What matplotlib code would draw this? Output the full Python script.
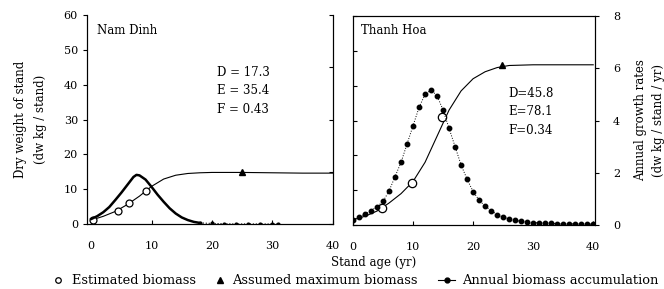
import numpy as np
import matplotlib.pyplot as plt
from matplotlib.lines import Line2D

plt.rcParams['font.family'] = ['DejaVu Serif']
plt.rcParams['font.size'] = 8

# ---- Nam Dinh (left panel) ----
nd_age = [0, 2, 4, 6, 8, 10, 12, 14, 16, 18, 20, 25, 30, 35, 40]
nd_biomass = [1.1, 2.2, 3.6, 5.6, 8.0, 10.8, 12.9, 14.0, 14.5, 14.7, 14.8, 14.8, 14.7, 14.6, 14.6]
nd_est_age = [0.3, 4.4, 6.3, 9.0]
nd_est_biomass = [1.1, 3.8, 5.9, 9.6]
nd_max_age = [25]
nd_max_biomass = [14.8]
nd_rate_age = [0, 1, 2, 3, 4, 5, 6, 7, 7.5, 8, 9, 10, 11, 12, 13, 14, 15, 16, 17, 18]
nd_rate = [0.19, 0.3, 0.45, 0.65, 0.92, 1.2, 1.5, 1.8, 1.88, 1.86, 1.7, 1.42, 1.12, 0.85, 0.6, 0.4, 0.25, 0.15, 0.08, 0.04]
nd_tail_age = [18, 20, 22, 24, 26, 28, 30, 31]
nd_tail_rate = [0.04, 0.02, 0.01, 0.0, 0.0, 0.0, 0.0, 0.0]

# ---- Thanh Hoa (right panel) ----
th_age = [0, 2, 4, 6, 8, 10, 12, 14, 16, 18, 20, 22, 24, 26, 30, 35, 40]
th_biomass = [1.5, 2.5, 4.0, 6.3, 9.0, 12.5, 18.0, 25.5, 33.0, 38.5, 42.0, 44.0, 45.2, 45.8, 46.0, 46.0, 46.0]
th_est_age = [4.8, 9.8, 14.9]
th_est_biomass = [4.9, 12.0, 31.0]
th_max_age = [24.8]
th_max_biomass = [45.8]
th_rate_age = list(range(0, 41))
th_rate = [0.2, 0.3, 0.42, 0.55, 0.7, 0.9, 1.3, 1.85, 2.4, 3.1, 3.8, 4.5, 5.0, 5.17, 4.95,
           4.4, 3.7, 3.0, 2.3, 1.75, 1.28, 0.95, 0.72, 0.55, 0.4, 0.3, 0.23, 0.18, 0.14, 0.11,
           0.09, 0.08, 0.07, 0.06, 0.05, 0.05, 0.04, 0.04, 0.04, 0.03, 0.03]

fig = plt.figure(figsize=(6.64, 2.89), dpi=100)
ax1 = fig.add_axes([0.131, 0.225, 0.370, 0.723])
ax2 = fig.add_axes([0.5316, 0.2215, 0.3645, 0.723])
ax1r = ax1.twinx()
ax2r = ax2.twinx()

# left panel
ax1.plot(nd_age, nd_biomass, color='black', lw=0.8)
ax1r.plot(nd_rate_age, nd_rate, color='black', lw=1.8)
ax1r.plot(nd_tail_age, nd_tail_rate, color='black', lw=0.8, ls=':', marker='o', ms=2)
ax1.plot(nd_est_age, nd_est_biomass, 'o', mfc='white', mec='black', ms=5, mew=0.9)
ax1.plot(nd_max_age, nd_max_biomass, '^', color='black', ms=5)

# right panel
ax2.plot(th_age, th_biomass, color='black', lw=0.8)
ax2r.plot(th_rate_age, th_rate, color='black', lw=0.7, ls=':', marker='o', ms=3.2)
ax2.plot(th_est_age, th_est_biomass, 'o', mfc='white', mec='black', ms=6, mew=0.9)
ax2.plot(th_max_age, th_max_biomass, '^', color='black', ms=5)

ax1.set_xlim(-0.7, 40)
ax2.set_xlim(0, 40.3)
for ax in (ax1, ax2):
    ax.set_ylim(0, 60)
    ax.set_xticks([0, 10, 20, 30, 40])
    ax.tick_params(axis='x', direction='in', length=3, pad=12)
for ax in (ax1r, ax2r):
    ax.set_ylim(0, 8)
    ax.set_yticks([0, 2, 4, 6, 8])

ax1.set_yticks([0, 10, 20, 30, 40, 50, 60])
ax1.tick_params(axis='y', direction='out', length=3)
ax1.spines['top'].set_visible(False)
ax1r.spines['top'].set_visible(False)
ax1r.tick_params(axis='y', direction='in', length=3, labelright=False)

ax2.set_yticks([0, 10, 20, 30, 40, 50, 60])
ax2.tick_params(axis='y', direction='in', length=3, labelleft=False)
ax2r.tick_params(axis='y', direction='out', length=3, pad=10)

for a in (ax1, ax1r, ax2, ax2r):
    for s in a.spines.values():
        s.set_linewidth(0.8)

ax1.text(1.0, 55.5, 'Nam Dinh', fontsize=8.5, va='center')
ax2.text(1.3, 55.8, 'Thanh Hoa', fontsize=8.5, va='center')
ax1.text(20.8, 38.2, 'D = 17.3\nE = 35.4\nF = 0.43', fontsize=8.5, va='center',
         linespacing=1.55)
ax2.text(25.8, 32.5, 'D=45.8\nE=78.1\nF=0.34', fontsize=8.5, va='center',
         linespacing=1.55)

ax1.set_ylabel('Dry weight of stand\n(dw kg / stand)', fontsize=8.5, labelpad=12,
               linespacing=1.7)
ax2r.set_ylabel('Annual growth rates\n(dw kg / stand / yr)', fontsize=8.5, labelpad=10,
                linespacing=1.5)
fig.text(0.563, 0.093, 'Stand age (yr)', ha='center', va='center', fontsize=8.5)

# legend row
ly = 0.03
lfs = 9.4
fig.add_artist(Line2D([58 / 664], [ly], transform=fig.transFigure, ls='none',
                      marker='o', ms=4, mfc='white', mec='black', mew=0.9))
fig.text(72 / 664, ly, 'Estimated biomass', fontsize=lfs, va='center')
fig.add_artist(Line2D([220 / 664], [ly], transform=fig.transFigure, ls='none',
                      marker='^', ms=4.5, color='black'))
fig.text(232 / 664, ly, 'Assumed maximum biomass', fontsize=lfs, va='center')
fig.add_artist(Line2D([438 / 664, 455 / 664], [ly, ly], transform=fig.transFigure,
                      color='black', lw=0.8))
fig.add_artist(Line2D([446.5 / 664], [ly], transform=fig.transFigure, ls='none',
                      marker='o', ms=3.5, color='black'))
fig.text(462 / 664, ly, 'Annual biomass accumulation', fontsize=lfs, va='center')

fig.savefig('out.png', dpi=100)
